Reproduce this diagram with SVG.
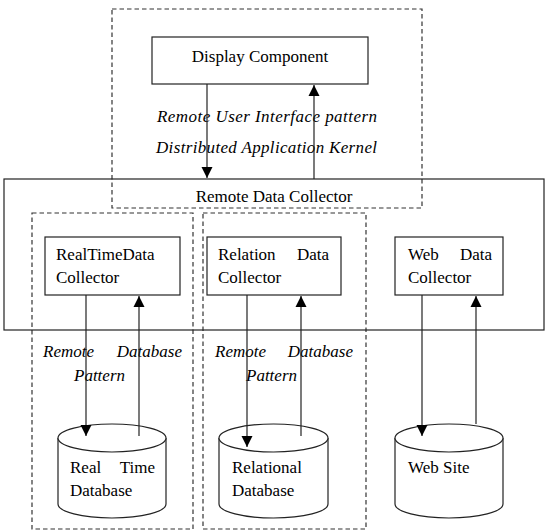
<svg xmlns="http://www.w3.org/2000/svg" width="546" height="531" viewBox="0 0 546 531">
  <style>
    .box { fill: none; stroke: #222; stroke-width: 1.2; }
    .node { fill: #fff; stroke: #222; stroke-width: 1.2; }
    .dash { fill: none; stroke: #333; stroke-width: 1.2; stroke-dasharray: 4.5 3; }
    .conn { fill: none; stroke: #222; stroke-width: 1.2; }
    .t { font-family: "Liberation Serif", "Times New Roman", serif; font-size: 17px; fill: #000; }
    .it { font-family: "Liberation Serif", "Times New Roman", serif; font-size: 17px; font-style: italic; fill: #000; }
  </style>
  <defs>
    <marker id="arrow" markerUnits="userSpaceOnUse" markerWidth="12" markerHeight="12" viewBox="0 0 12 12" refX="11" refY="6" orient="auto">
      <path d="M0,0.5 L11,6 L0,11.5 Z" fill="#000"/>
    </marker>
  </defs>

  <!-- pattern boundaries -->
  <g id="ui-pattern">
    <rect class="dash" x="112" y="9" width="310" height="199"/>
    <text class="it" x="157" y="122" textLength="220" lengthAdjust="spacing">Remote User Interface pattern</text>
    <text class="it" x="156" y="153" textLength="221" lengthAdjust="spacing">Distributed Application Kernel</text>
  </g>
  <g id="db-pattern-realtime">
    <rect class="dash" x="32" y="213" width="161" height="316"/>
    <text class="it" x="43" y="357">Remote</text>
    <text class="it" x="182" y="357" text-anchor="end">Database</text>
    <text class="it" x="74" y="381">Pattern</text>
  </g>
  <g id="db-pattern-relational">
    <rect class="dash" x="203" y="213" width="163" height="316"/>
    <text class="it" x="215" y="357">Remote</text>
    <text class="it" x="353" y="357" text-anchor="end">Database</text>
    <text class="it" x="246" y="381">Pattern</text>
  </g>

  <!-- nodes -->
  <g id="display-component">
    <rect class="node" x="152" y="37" width="216" height="47"/>
    <text class="t" x="260" y="62" text-anchor="middle">Display Component</text>
  </g>
  <g id="remote-data-collector">
    <rect class="box" x="4" y="179" width="540" height="151"/>
    <text class="t" x="274" y="202" text-anchor="middle">Remote Data Collector</text>
  </g>
  <g id="realtime-collector">
    <rect class="node" x="45" y="237" width="135" height="58"/>
    <text class="t" x="56" y="260">RealTimeData</text>
    <text class="t" x="56" y="283">Collector</text>
  </g>
  <g id="relation-collector">
    <rect class="node" x="207" y="237" width="134" height="58"/>
    <text class="t" x="218" y="260">Relation</text>
    <text class="t" x="329" y="260" text-anchor="end">Data</text>
    <text class="t" x="218" y="283">Collector</text>
  </g>
  <g id="web-collector">
    <rect class="node" x="395" y="237" width="108" height="58"/>
    <text class="t" x="408" y="260">Web</text>
    <text class="t" x="492" y="260" text-anchor="end">Data</text>
    <text class="t" x="408" y="283">Collector</text>
  </g>
  <g id="realtime-database">
    <path class="node" d="M58,438 V504 A54,14 0 0 0 166,504 V438"/>
    <ellipse class="node" cx="112" cy="438" rx="54" ry="14"/>
    <text class="t" x="70" y="473">Real</text>
    <text class="t" x="155" y="473" text-anchor="end">Time</text>
    <text class="t" x="70" y="496">Database</text>
  </g>
  <g id="relational-database">
    <path class="node" d="M219,438 V504 A54.5,14 0 0 0 328,504 V438"/>
    <ellipse class="node" cx="273.5" cy="438" rx="54.5" ry="14"/>
    <text class="t" x="232" y="473">Relational</text>
    <text class="t" x="232" y="496">Database</text>
  </g>
  <g id="web-site">
    <path class="node" d="M395,438 V504 A54,14 0 0 0 503,504 V438"/>
    <ellipse class="node" cx="449" cy="438" rx="54" ry="14"/>
    <text class="t" x="408" y="473">Web Site</text>
  </g>

  <!-- connectors -->
  <g id="connectors">
    <line class="conn" x1="207" y1="84" x2="207" y2="178" marker-end="url(#arrow)"/>
    <line class="conn" x1="314" y1="179" x2="314" y2="85" marker-end="url(#arrow)"/>
    <line class="conn" x1="86" y1="295" x2="86" y2="436" marker-end="url(#arrow)"/>
    <line class="conn" x1="139" y1="436" x2="139" y2="296" marker-end="url(#arrow)"/>
    <line class="conn" x1="247" y1="295" x2="247" y2="447" marker-end="url(#arrow)"/>
    <line class="conn" x1="301" y1="436" x2="301" y2="296" marker-end="url(#arrow)"/>
    <line class="conn" x1="422" y1="295" x2="422" y2="436" marker-end="url(#arrow)"/>
    <line class="conn" x1="476" y1="424" x2="476" y2="296" marker-end="url(#arrow)"/>
  </g>
</svg>
